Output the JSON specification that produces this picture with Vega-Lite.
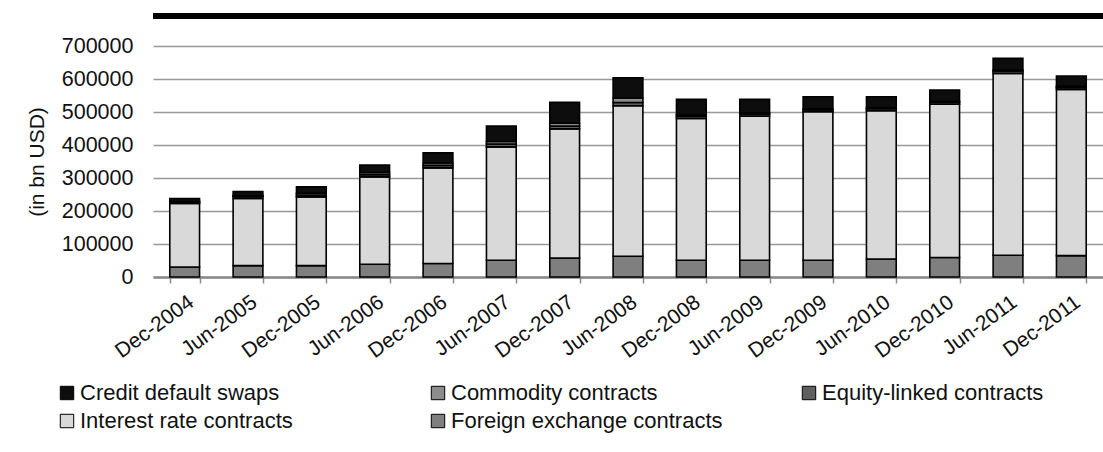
{
  "$schema": "https://vega.github.io/schema/vega-lite/v6.json",
  "width": 950,
  "height": 231,
  "autosize": {"type": "none"},
  "padding": {"left": 153, "top": 46, "right": 0, "bottom": 175},
  "background": "white",
  "config": {
    "font": "Liberation Sans",
    "view": {"stroke": null}
  },
  "data": {"values": [
    {"period":"Dec-2004","type":"Foreign exchange contracts","stackorder":1,"value":30300},
    {"period":"Dec-2004","type":"Interest rate contracts","stackorder":2,"value":192400},
    {"period":"Dec-2004","type":"Equity-linked contracts","stackorder":3,"value":4400},
    {"period":"Dec-2004","type":"Commodity contracts","stackorder":4,"value":1400},
    {"period":"Dec-2004","type":"Credit default swaps","stackorder":5,"value":9400},
    {"period":"Jun-2005","type":"Foreign exchange contracts","stackorder":1,"value":34600},
    {"period":"Jun-2005","type":"Interest rate contracts","stackorder":2,"value":203300},
    {"period":"Jun-2005","type":"Equity-linked contracts","stackorder":3,"value":5600},
    {"period":"Jun-2005","type":"Commodity contracts","stackorder":4,"value":2900},
    {"period":"Jun-2005","type":"Credit default swaps","stackorder":5,"value":12700},
    {"period":"Dec-2005","type":"Foreign exchange contracts","stackorder":1,"value":34600},
    {"period":"Dec-2005","type":"Interest rate contracts","stackorder":2,"value":208100},
    {"period":"Dec-2005","type":"Equity-linked contracts","stackorder":3,"value":5800},
    {"period":"Dec-2005","type":"Commodity contracts","stackorder":4,"value":5400},
    {"period":"Dec-2005","type":"Credit default swaps","stackorder":5,"value":19200},
    {"period":"Jun-2006","type":"Foreign exchange contracts","stackorder":1,"value":38500},
    {"period":"Jun-2006","type":"Interest rate contracts","stackorder":2,"value":264900},
    {"period":"Jun-2006","type":"Equity-linked contracts","stackorder":3,"value":6800},
    {"period":"Jun-2006","type":"Commodity contracts","stackorder":4,"value":6400},
    {"period":"Jun-2006","type":"Credit default swaps","stackorder":5,"value":22300},
    {"period":"Dec-2006","type":"Foreign exchange contracts","stackorder":1,"value":40700},
    {"period":"Dec-2006","type":"Interest rate contracts","stackorder":2,"value":290000},
    {"period":"Dec-2006","type":"Equity-linked contracts","stackorder":3,"value":7500},
    {"period":"Dec-2006","type":"Commodity contracts","stackorder":4,"value":7100},
    {"period":"Dec-2006","type":"Credit default swaps","stackorder":5,"value":30900},
    {"period":"Jun-2007","type":"Foreign exchange contracts","stackorder":1,"value":50700},
    {"period":"Jun-2007","type":"Interest rate contracts","stackorder":2,"value":343700},
    {"period":"Jun-2007","type":"Equity-linked contracts","stackorder":3,"value":8600},
    {"period":"Jun-2007","type":"Commodity contracts","stackorder":4,"value":7600},
    {"period":"Jun-2007","type":"Credit default swaps","stackorder":5,"value":46600},
    {"period":"Dec-2007","type":"Foreign exchange contracts","stackorder":1,"value":57600},
    {"period":"Dec-2007","type":"Interest rate contracts","stackorder":2,"value":391400},
    {"period":"Dec-2007","type":"Equity-linked contracts","stackorder":3,"value":8500},
    {"period":"Dec-2007","type":"Commodity contracts","stackorder":4,"value":8500},
    {"period":"Dec-2007","type":"Credit default swaps","stackorder":5,"value":63100},
    {"period":"Jun-2008","type":"Foreign exchange contracts","stackorder":1,"value":62800},
    {"period":"Jun-2008","type":"Interest rate contracts","stackorder":2,"value":456000},
    {"period":"Jun-2008","type":"Equity-linked contracts","stackorder":3,"value":10200},
    {"period":"Jun-2008","type":"Commodity contracts","stackorder":4,"value":13200},
    {"period":"Jun-2008","type":"Credit default swaps","stackorder":5,"value":61600},
    {"period":"Dec-2008","type":"Foreign exchange contracts","stackorder":1,"value":50700},
    {"period":"Dec-2008","type":"Interest rate contracts","stackorder":2,"value":429900},
    {"period":"Dec-2008","type":"Equity-linked contracts","stackorder":3,"value":6500},
    {"period":"Dec-2008","type":"Commodity contracts","stackorder":4,"value":4400},
    {"period":"Dec-2008","type":"Credit default swaps","stackorder":5,"value":46700},
    {"period":"Jun-2009","type":"Foreign exchange contracts","stackorder":1,"value":50700},
    {"period":"Jun-2009","type":"Interest rate contracts","stackorder":2,"value":436900},
    {"period":"Jun-2009","type":"Equity-linked contracts","stackorder":3,"value":6600},
    {"period":"Jun-2009","type":"Commodity contracts","stackorder":4,"value":3600},
    {"period":"Jun-2009","type":"Credit default swaps","stackorder":5,"value":40400},
    {"period":"Dec-2009","type":"Foreign exchange contracts","stackorder":1,"value":50700},
    {"period":"Dec-2009","type":"Interest rate contracts","stackorder":2,"value":449900},
    {"period":"Dec-2009","type":"Equity-linked contracts","stackorder":3,"value":5900},
    {"period":"Dec-2009","type":"Commodity contracts","stackorder":4,"value":2900},
    {"period":"Dec-2009","type":"Credit default swaps","stackorder":5,"value":36600},
    {"period":"Jun-2010","type":"Foreign exchange contracts","stackorder":1,"value":54600},
    {"period":"Jun-2010","type":"Interest rate contracts","stackorder":2,"value":449000},
    {"period":"Jun-2010","type":"Equity-linked contracts","stackorder":3,"value":6300},
    {"period":"Jun-2010","type":"Commodity contracts","stackorder":4,"value":2900},
    {"period":"Jun-2010","type":"Credit default swaps","stackorder":5,"value":33200},
    {"period":"Dec-2010","type":"Foreign exchange contracts","stackorder":1,"value":58900},
    {"period":"Dec-2010","type":"Interest rate contracts","stackorder":2,"value":465100},
    {"period":"Dec-2010","type":"Equity-linked contracts","stackorder":3,"value":5600},
    {"period":"Dec-2010","type":"Commodity contracts","stackorder":4,"value":2900},
    {"period":"Dec-2010","type":"Credit default swaps","stackorder":5,"value":33900},
    {"period":"Jun-2011","type":"Foreign exchange contracts","stackorder":1,"value":65800},
    {"period":"Jun-2011","type":"Interest rate contracts","stackorder":2,"value":551200},
    {"period":"Jun-2011","type":"Equity-linked contracts","stackorder":3,"value":6800},
    {"period":"Jun-2011","type":"Commodity contracts","stackorder":4,"value":3200},
    {"period":"Jun-2011","type":"Credit default swaps","stackorder":5,"value":35600},
    {"period":"Dec-2011","type":"Foreign exchange contracts","stackorder":1,"value":64900},
    {"period":"Dec-2011","type":"Interest rate contracts","stackorder":2,"value":503700},
    {"period":"Dec-2011","type":"Equity-linked contracts","stackorder":3,"value":6000},
    {"period":"Dec-2011","type":"Commodity contracts","stackorder":4,"value":3100},
    {"period":"Dec-2011","type":"Credit default swaps","stackorder":5,"value":31200}
  ]},
  "resolve": {"scale": {"y": "independent"}, "axis": {"y": "independent"}},
  "layer": [
    {
      "mark": {"type": "bar", "stroke": "#000000", "strokeWidth": 1.6},
      "encoding": {
        "x": {
          "field": "period", "type": "ordinal", "sort": null,
          "scale": {"paddingInner": 0.53, "paddingOuter": 0.265},
          "axis": {
            "title": null, "labelAngle": -36, "labelAlign": "right", "labelBaseline": "top",
            "labelFontSize": 21, "labelColor": "#111111", "labelPadding": 8, "labelDx": -3,
            "tickBand": "extent", "tickSize": 6, "tickColor": "#888888", "tickWidth": 1.5,
            "domainColor": "#888888", "domainWidth": 2.5, "grid": false
          }
        },
        "y": {
          "field": "value", "type": "quantitative", "stack": "zero",
          "scale": {"domain": [0, 700000], "nice": false},
          "axis": {
            "title": "(in bn USD)", "titleFontSize": 21, "titleFontWeight": "normal", "titleColor": "#111111",
            "titlePadding": 14, "values": [0,100000,200000,300000,400000,500000,600000,700000],
            "format": "d", "labelFontSize": 21.5, "labelColor": "#111111", "labelPadding": 20,
            "labelOverlap": false,
            "domain": false, "ticks": false, "grid": true, "gridColor": "#999999", "gridWidth": 1.3
          }
        },
        "color": {
          "field": "type", "type": "nominal",
          "scale": {
            "domain": ["Credit default swaps", "Commodity contracts", "Equity-linked contracts", "Interest rate contracts", "Foreign exchange contracts"],
            "range": ["#0d0d0d", "#8c8c8c", "#5f5f5f", "#d9d9d9", "#7f7f7f"]
          },
          "legend": {
            "orient": "none", "legendX": -97, "legendY": 336, "title": null,
            "columns": 3, "direction": "horizontal", "gridAlign": "all",
            "symbolType": "square", "symbolSize": 180, "symbolStrokeColor": "#000000", "symbolStrokeWidth": 1,
            "labelFontSize": 22, "labelColor": "#111111", "labelLimit": 400, "labelOffset": 2,
            "columnPadding": 75, "rowPadding": 6
          }
        },
        "order": {"field": "stackorder", "type": "quantitative"}
      }
    },
    {
      "data": {"values": [{}]},
      "mark": {"type": "rule", "color": "#000000", "strokeWidth": 6, "clip": false},
      "encoding": {"y": {"datum": 1.13, "scale": {"domain": [0, 1], "nice": false}, "axis": null}}
    }
  ]
}
